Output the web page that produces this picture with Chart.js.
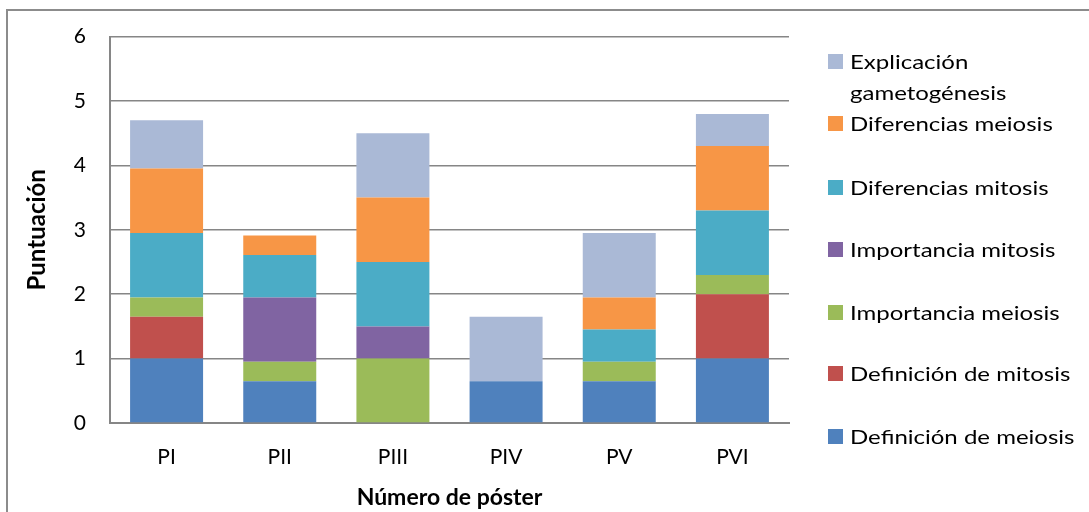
<!DOCTYPE html>
<html lang="es">
<head>
<meta charset="utf-8">
<title>Puntuación por póster</title>
<script src="https://cdn.jsdelivr.net/npm/chart.js@4/dist/chart.umd.min.js"></script>
<style>
    html, body { margin: 0; padding: 0; background: #fff; }
    #marco { position: relative; width: 1089px; height: 512px; overflow: hidden; font-family: Lato, "Open Sans", sans-serif; }
    #borde { position: absolute; left: 6px; top: 9px; right: -2px; bottom: -2px; border-top: 2px solid #8c8c8c; border-left: 2px solid #8c8c8c; }
    #grafico { position: absolute; left: 0; top: 0; }
    #leyenda { position: absolute; left: 0; top: 0; width: 1089px; height: 512px; pointer-events: none; }
    .item { position: absolute; left: 828px; display: flex; align-items: flex-start; font-size: 20px; line-height: 31px; color: #000; }
    .caja { width: 15px; height: 15px; margin-top: 8px; margin-right: 7px; flex: none; }
    .texto { display: inline-block; transform: scaleX(1.2); transform-origin: left center; white-space: nowrap; }
</style>
</head>
<body>
<div id="marco">
    <div id="borde"></div>
    <canvas id="grafico" width="1089" height="512"></canvas>
    <div id="leyenda"></div>
</div>
<script>
// Datos
const posters = ['PI', 'PII', 'PIII', 'PIV', 'PV', 'PVI'];

const defMeiosis = [1, 0.65, 0, 0.65, 0.65, 1];
const defMitosis = [0.65, 0, 0, 0, 0, 1];
const impMeiosis = [0.3, 0.3, 1, 0, 0.3, 0.3];
const impMitosis = [0, 1, 0.5, 0, 0, 0];
const difMitosis = [1, 0.66, 1, 0, 0.5, 1];
const difMeiosis = [1, 0.3, 1, 0, 0.5, 1];
const explicacion = [0.75, 0, 1, 1, 1, 0.5];

const nombresSeries = [
    'Definición de meiosis',
    'Definición de mitosis',
    'Importancia meiosis',
    'Importancia mitosis',
    'Diferencias mitosis',
    'Diferencias meiosis',
    'Explicación gametogénesis'
];
const coloresSeries = ['#4F81BD', '#C0504D', '#9BBB59', '#8064A2', '#4BACC6', '#F79646', '#AAB9D6'];
const valoresSeries = [defMeiosis, defMitosis, impMeiosis, impMitosis, difMitosis, difMeiosis, explicacion];

const fuente = 'Lato, "Open Sans", sans-serif';
const gris = '#868686';

const datasets = valoresSeries.map((valores, i) => ({
    label: nombresSeries[i],
    data: valores,
    backgroundColor: coloresSeries[i],
    borderWidth: 0,
    categoryPercentage: 1,
    barPercentage: 0.645
}));

new Chart(document.getElementById('grafico').getContext('2d'), {
    type: 'bar',
    data: { labels: posters, datasets: datasets },
    options: {
        responsive: false,
        animation: false,
        layout: { padding: { top: 36, right: 300, left: 0, bottom: 0 } },
        plugins: { legend: { display: false }, tooltip: { enabled: false } },
        scales: {
            x: {
                stacked: true,
                grid: { display: false, drawTicks: false },
                border: { display: true, color: gris, width: 2 },
                ticks: { color: '#000', font: { family: fuente, size: 21 }, padding: 22 },
                title: {
                    display: true,
                    text: 'Número de póster',
                    color: '#000',
                    font: { family: fuente, size: 23, weight: 'bold' },
                    padding: { top: 0, bottom: 1 }
                },
                afterFit: (escala) => { escala.height = 89; }
            },
            y: {
                stacked: true,
                min: 0,
                max: 6,
                ticks: { stepSize: 1, color: '#000', font: { family: fuente, size: 21 }, padding: 24 },
                grid: { color: gris, lineWidth: 1.5, drawTicks: false },
                border: { display: true, color: gris, width: 2 },
                title: {
                    display: true,
                    text: 'Puntuación',
                    color: '#000',
                    font: { family: fuente, size: 24, weight: 'bold' },
                    padding: { top: 23, bottom: 0 }
                },
                afterFit: (escala) => { escala.width = 110; }
            }
        }
    }
});

// Leyenda en orden inverso, como en el original
const leyenda = document.getElementById('leyenda');
const centros = [46, 108, 172, 234, 297, 358, 421];
for (let k = 0; k < nombresSeries.length; k++) {
    const i = nombresSeries.length - 1 - k;
    const item = document.createElement('div');
    item.className = 'item';
    item.style.top = centros[k] + 'px';
    const caja = document.createElement('span');
    caja.className = 'caja';
    caja.style.background = coloresSeries[i];
    const texto = document.createElement('span');
    texto.className = 'texto';
    texto.innerHTML = i === 6 ? 'Explicación<br>gametogénesis' : nombresSeries[i];
    item.appendChild(caja);
    item.appendChild(texto);
    leyenda.appendChild(item);
}
</script>
</body>
</html>
